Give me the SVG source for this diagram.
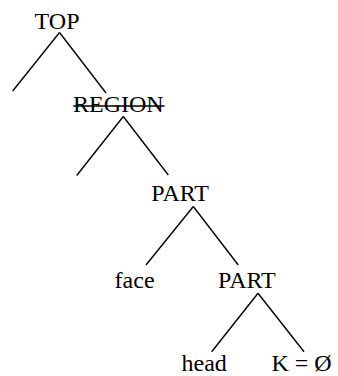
<svg xmlns="http://www.w3.org/2000/svg" width="338" height="376" viewBox="0 0 338 376">
<style>
text{font-family:"Liberation Serif","Times New Roman",serif;font-size:24px;fill:#000}
.e{stroke:#000;stroke-width:1.4;fill:none}
</style>
<rect width="338" height="376" fill="#fff"/>
<g id="connectors">
<line class="e" x1="59.5" y1="32.5" x2="12.7" y2="91"/>
<line class="e" x1="59.5" y1="32.5" x2="106" y2="93"/>
<line class="e" x1="123.3" y1="116.5" x2="76.7" y2="175.5"/>
<line class="e" x1="123.3" y1="116.5" x2="168.3" y2="175"/>
<line class="e" x1="193.3" y1="206.5" x2="146" y2="265"/>
<line class="e" x1="193.3" y1="206.5" x2="238.3" y2="265"/>
<line class="e" x1="258" y1="293.3" x2="211.7" y2="351.7"/>
<line class="e" x1="258" y1="293.3" x2="304" y2="351.7"/>
</g>
<g id="top"><text x="34.6" y="28.5">TOP</text></g>
<g id="region"><text x="73" y="112">REGION</text><line class="e" x1="73.3" y1="106" x2="164.5" y2="106"/></g>
<g id="part1"><text x="151.3" y="201">PART</text></g>
<g id="face"><text x="114.6" y="288">face</text></g>
<g id="part2"><text x="218" y="288">PART</text></g>
<g id="head"><text x="181.5" y="370.5">head</text></g>
<g id="k"><text x="271.5" y="370.5">K = Ø</text></g>
</svg>
